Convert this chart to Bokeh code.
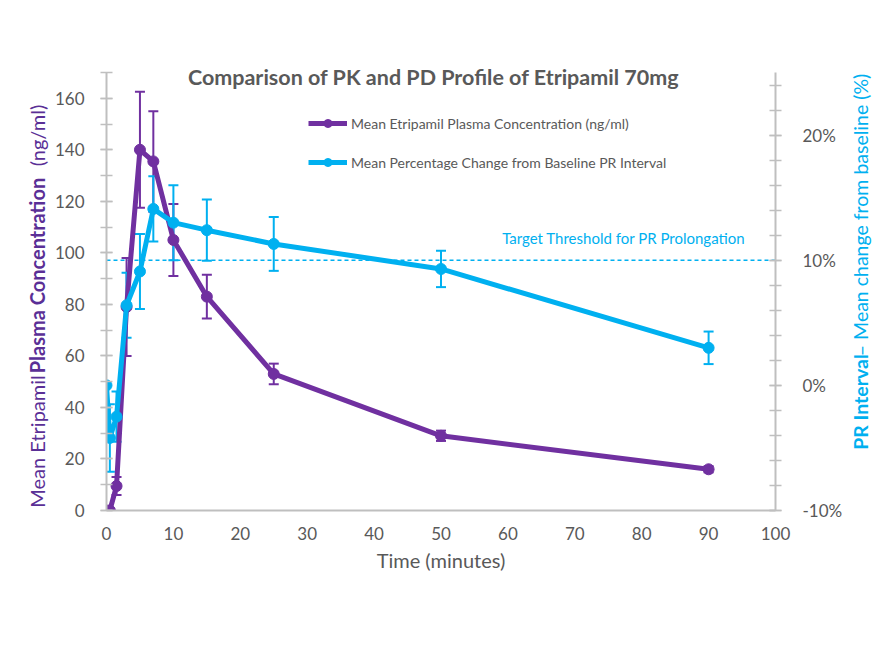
import math
from bokeh.plotting import figure
from bokeh.layouts import row
from bokeh.models import (ColumnDataSource, Range1d, LinearAxis, Whisker, TeeHead, Span,
                          Label, Legend, LegendItem, SingleIntervalTicker, CustomJSTickFormatter)
from bokeh.embed import file_html
from bokeh.resources import INLINE

# ---- data ----
time_min = [0, 0.5, 1.5, 3, 5, 7, 10, 15, 25, 50, 90]
pk_conc = [0, 0, 9.5, 79, 140, 135.5, 105, 83, 53, 29, 16]
pk_err = [0, 0, 3.5, 19, 22.5, 19.5, 14, 8.5, 4, 2, 1.2]
pr_change = [0, -4.2, -2.5, 6.4, 9.1, 14.1, 13.0, 12.4, 11.3, 9.3, 3.0]
pr_err = [0, 2.7, 2.0, 2.6, 3.0, 2.6, 3.0, 2.45, 2.15, 1.45, 1.3]
threshold_pct = 10

title_text = "Comparison of PK and PD Profile of Etripamil 70mg"
pk_label = "Mean Etripamil Plasma Concentration (ng/ml)"
pr_label = "Mean Percentage Change from Baseline PR Interval"
threshold_label = "Target Threshold for PR Prolongation"
x_title = "Time (minutes)"
left_title = ["Mean Etripamil", "Plasma Concentration", "(ng/ml)"]
right_title = ["PR Interval", "\u2013 Mean change from baseline  (%)"]

PURPLE = "#7030A0"
PURPLE_TXT = "#5A2F96"
CYAN = "#00B0F0"
GRAY = "#595959"
AXIS = "#BFBFBF"
FONT = "Lato"

H = 630
LW = 50          # left title strip
RW = 35          # right title strip
MAIN_W = 795
FRAME_TOP = 56
FRAME_BOTTOM = 120

frame_h = H - FRAME_TOP - FRAME_BOTTOM
px_per_left = 438 / 170.0
px_per_right = 438 / 35.0
left_top = frame_h / px_per_left
right_top = -10 + frame_h / px_per_right

p = figure(width=MAIN_W, height=H, output_backend="svg", toolbar_location=None,
           x_range=Range1d(0, 100), y_range=Range1d(0, left_top),
           min_border_left=106 - LW, min_border_right=MAIN_W + LW - 778,
           min_border_top=FRAME_TOP, min_border_bottom=FRAME_BOTTOM)
p.extra_y_ranges = {"pr": Range1d(-10, right_top)}
p.xgrid.visible = False
p.ygrid.visible = False
p.outline_line_color = None

xa = p.xaxis[0]
xa.ticker = SingleIntervalTicker(interval=10, num_minor_ticks=0)
xa.major_tick_in = 0
xa.major_tick_out = 0
xa.minor_tick_in = 0
xa.minor_tick_out = 0
xa.axis_label = x_title
xa.axis_label_text_font = FONT
xa.axis_label_text_font_size = "20px"
xa.axis_label_text_font_style = "normal"
xa.axis_label_text_color = GRAY
xa.axis_label_standoff = 5
xa.major_label_standoff = 16

ya = p.yaxis[0]
ya.ticker = SingleIntervalTicker(interval=20, num_minor_ticks=2)
ya.bounds = (0, 170)
ya.major_tick_in = 6
ya.major_tick_out = 6
ya.minor_tick_in = 6
ya.minor_tick_out = 6
ya.major_label_standoff = 16

ra = LinearAxis(y_range_name="pr", ticker=SingleIntervalTicker(interval=10, num_minor_ticks=5),
                formatter=CustomJSTickFormatter(code="return tick.toFixed(0) + '%';"),
                bounds=(-10, 25))
ra.major_tick_in = 6
ra.major_tick_out = 6
ra.minor_tick_in = 6
ra.minor_tick_out = 6
ra.major_label_standoff = 21
p.add_layout(ra, "right")

for ax in [xa, ya, ra]:
    ax.axis_line_color = AXIS
    ax.axis_line_width = 2
    ax.major_tick_line_color = AXIS
    ax.minor_tick_line_color = AXIS
    ax.major_tick_line_width = 1.5
    ax.minor_tick_line_width = 1.5
    ax.major_label_text_font = FONT
    ax.major_label_text_font_size = "17px"
    ax.major_label_text_color = GRAY

span = Span(location=threshold_pct, dimension="width", y_range_name="pr",
            line_color=CYAN, line_width=1.5, line_dash="4 3", level="underlay")
p.add_layout(span)

def err_source(t, y, e):
    tt, lo, hi = [], [], []
    for a, b, c in zip(t, y, e):
        if c > 0:
            tt.append(a); lo.append(b - c); hi.append(b + c)
    return ColumnDataSource(dict(t=tt, lo=lo, hi=hi))

wk_pk = Whisker(base="t", lower="lo", upper="hi", source=err_source(time_min, pk_conc, pk_err),
                line_color=PURPLE, line_width=2, level="underlay",
                upper_head=TeeHead(size=10, line_color=PURPLE, line_width=2),
                lower_head=TeeHead(size=10, line_color=PURPLE, line_width=2))
p.add_layout(wk_pk)
wk_pr = Whisker(base="t", lower="lo", upper="hi", source=err_source(time_min, pr_change, pr_err),
                y_range_name="pr", line_color=CYAN, line_width=2, level="underlay",
                upper_head=TeeHead(size=10, line_color=CYAN, line_width=2),
                lower_head=TeeHead(size=10, line_color=CYAN, line_width=2))
p.add_layout(wk_pr)

src_pk = ColumnDataSource(dict(t=time_min, y=pk_conc))
src_pr = ColumnDataSource(dict(t=time_min, y=pr_change))
l1 = p.line("t", "y", source=src_pk, line_color=PURPLE, line_width=5)
s1 = p.scatter("t", "y", source=src_pk, size=11, fill_color=PURPLE, line_color=PURPLE)
l2 = p.line("t", "y", source=src_pr, y_range_name="pr", line_color=CYAN, line_width=5)
s2 = p.scatter("t", "y", source=src_pr, y_range_name="pr", size=11, fill_color=CYAN, line_color=CYAN)

legend = Legend(items=[LegendItem(label=pk_label, renderers=[l1, s1]),
                       LegendItem(label=pr_label, renderers=[l2, s2])],
                location=(202, 338), padding=0, margin=0, spacing=19,
                glyph_width=39, glyph_height=20, label_height=20, label_standoff=4,
                border_line_color=None, background_fill_alpha=0,
                label_text_font=FONT, label_text_font_size="14px", label_text_color=GRAY)
p.add_layout(legend)

p.add_layout(Label(x=48.9, y=168.2, text=title_text, text_align="center", text_baseline="middle",
                   text_font=FONT, text_font_style="bold", text_font_size="21.5px",
                   text_color=GRAY))
p.add_layout(Label(x=95.5, y=11.8, y_range_name="pr", text=threshold_label, text_align="right",
                   text_baseline="middle", text_font=FONT, text_font_size="15px",
                   text_color=CYAN))


# side strips: the row aligns their frames with the main frame (page y 56..510),
# so use page-y coordinates directly (inverted range)
def strip(w):
    f = figure(width=w, height=H, output_backend="svg", toolbar_location=None,
               x_range=Range1d(0, w), y_range=Range1d(H - FRAME_BOTTOM, FRAME_TOP), min_border=0,
               x_axis_location=None, y_axis_location=None)
    f.outline_line_color = None
    for g in f.grid:
        g.visible = False
    return f

left = strip(LW)
for txt, page_y, style in [(left_title[0], 441, "normal"),
                           (left_title[1], 275, "bold"),
                           (left_title[2], 135, "normal")]:
    left.add_layout(Label(x=36.5, y=page_y, text=txt, angle=math.pi / 2, text_align="center",
                          text_baseline="middle", text_font=FONT, text_font_style=style,
                          text_font_size="20px", text_color=PURPLE_TXT))

right = strip(RW)
for txt, page_y, style in [(right_title[0], 401.5, "bold"),
                           (right_title[1], 212, "normal")]:
    right.add_layout(Label(x=15, y=page_y, text=txt, angle=math.pi / 2, text_align="center",
                           text_baseline="middle", text_font=FONT, text_font_style=style,
                           text_font_size="19.5px", text_color=CYAN))

layout = row(left, p, right, spacing=0)
open("out.html", "w").write(file_html(layout, INLINE))
